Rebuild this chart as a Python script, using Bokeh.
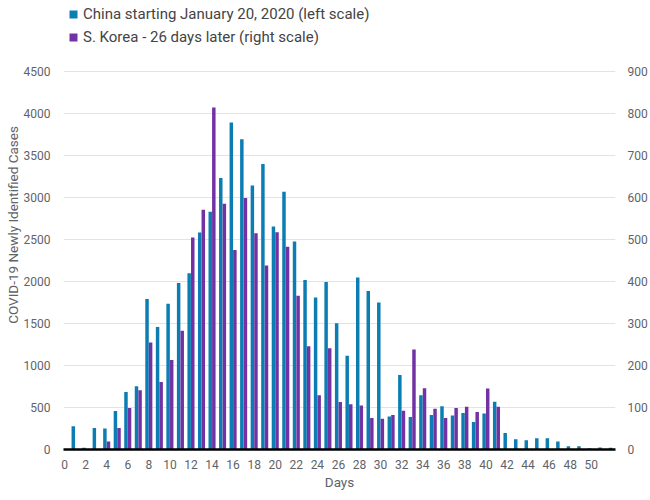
from bokeh.plotting import figure
from bokeh.models import Range1d, LinearAxis, FixedTicker, Legend, LegendItem, ColumnDataSource
from bokeh.embed import file_html
from bokeh.resources import INLINE

# ---- data ----
china_days = list(range(1, 53))
china_cases = [278, 20, 255, 250, 458, 685, 752, 1791, 1457, 1735,
               1982, 2097, 2583, 2830, 3232, 3892, 3693, 3144, 3399, 2655,
               3069, 2476, 2018, 1811, 1994, 1502, 1116, 2048, 1888, 1749,
               394, 888, 386, 645, 410, 514, 406, 434, 327, 429,
               568, 195, 123, 111, 135, 135, 95, 40, 40, 16,
               24, 20]
korea_days = list(range(4, 42))
korea_cases = [19, 51, 99, 141, 255, 161, 213, 283, 505, 571,
               814, 585, 475, 599, 515, 438, 517, 483, 366, 246,
               129, 241, 113, 108, 105, 75, 73, 82, 92, 238,
               146, 97, 75, 99, 102, 89, 145, 102]

left_ticks = list(range(0, 4501, 500))
right_ticks = list(range(0, 901, 100))
x_ticks = list(range(0, 51, 2))

china_label = "China starting January 20, 2020 (left scale)"
korea_label = "S. Korea - 26 days later (right scale)"
x_title = "Days"
y_title = "COVID-19 Newly Identified Cases"

CHINA_COLOR = "#0b7db2"
KOREA_COLOR = "#7232a3"
FONT = "Roboto"
TICK_COLOR = "#5f6368"

W, H = 650, 500
FRAME_BOTTOM = 449          # pixel row of the zero line
FRAME_TOP_TICK = 71         # pixel row of the 4500 gridline
LEFT_MAX = 4500
RIGHT_MAX = 900
# frame reaches the top of the canvas so the legend can sit inside it
left_top = LEFT_MAX * FRAME_BOTTOM / (FRAME_BOTTOM - FRAME_TOP_TICK)
right_top = RIGHT_MAX * FRAME_BOTTOM / (FRAME_BOTTOM - FRAME_TOP_TICK)

china_src = ColumnDataSource(dict(x=[d - 0.17 for d in china_days], top=china_cases))
korea_src = ColumnDataSource(dict(x=[d + 0.17 for d in korea_days], top=korea_cases))

p = figure(width=W, height=H, output_backend="svg", toolbar_location=None,
           x_range=Range1d(-0.1, 52.3), y_range=Range1d(0, left_top),
           min_border_left=63, min_border_right=33, min_border_top=0,
           min_border_bottom=H - FRAME_BOTTOM)
p.extra_y_ranges = {"right": Range1d(0, right_top)}
p.outline_line_color = None
p.background_fill_color = "white"
p.border_fill_color = "white"

r_china = p.vbar(x="x", top="top", width=0.33, bottom=0, source=china_src,
                 fill_color=CHINA_COLOR, line_color=None)
r_korea = p.vbar(x="x", top="top", width=0.33, bottom=0, source=korea_src,
                 fill_color=KOREA_COLOR, line_color=None, y_range_name="right")

# x axis
xa = p.xaxis[0]
xa.ticker = FixedTicker(ticks=x_ticks)
xa.axis_line_color = "black"
xa.axis_line_width = 2.5
xa.major_tick_line_color = None
xa.minor_tick_line_color = None
xa.major_label_standoff = 4
xa.major_label_text_font = FONT
xa.major_label_text_font_size = "12px"
xa.major_label_text_color = TICK_COLOR
xa.axis_label = x_title
xa.axis_label_text_font = FONT
xa.axis_label_text_font_size = "13.5px"
xa.axis_label_text_font_style = "normal"
xa.axis_label_text_color = TICK_COLOR
xa.axis_label_standoff = 2

# left y axis
ya = p.yaxis[0]
ya.ticker = FixedTicker(ticks=left_ticks)
ya.axis_line_color = None
ya.major_tick_line_color = None
ya.minor_tick_line_color = None
ya.major_label_standoff = 7
ya.major_label_text_font = FONT
ya.major_label_text_font_size = "12px"
ya.major_label_text_color = TICK_COLOR
ya.axis_label = y_title
ya.axis_label_text_font = FONT
ya.axis_label_text_font_size = "13.5px"
ya.axis_label_text_font_style = "normal"
ya.axis_label_text_color = TICK_COLOR
ya.axis_label_standoff = 0

# right y axis
ra = LinearAxis(y_range_name="right", ticker=FixedTicker(ticks=right_ticks))
ra.axis_line_color = None
ra.major_tick_line_color = None
ra.minor_tick_line_color = None
ra.major_label_standoff = 6
ra.major_label_text_font = FONT
ra.major_label_text_font_size = "12px"
ra.major_label_text_color = TICK_COLOR
p.add_layout(ra, "right")

# grids
p.xgrid.grid_line_color = None
p.ygrid.ticker = FixedTicker(ticks=left_ticks)
p.ygrid.grid_line_color = "#e3e3e3"
p.ygrid.grid_line_width = 1

legend = Legend(items=[LegendItem(label=china_label, renderers=[r_china]),
                       LegendItem(label=korea_label, renderers=[r_korea])],
                location=(5, FRAME_BOTTOM - 46), orientation="vertical")
legend.background_fill_alpha = 0
legend.border_line_color = None
legend.padding = 0
legend.margin = 0
legend.spacing = 5
legend.label_height = 14
legend.glyph_height = 10
legend.glyph_width = 10
legend.label_standoff = 5
legend.label_text_font = FONT
legend.label_text_font_size = "15px"
legend.label_text_color = "#444444"
p.add_layout(legend, "center")

open("out.html", "w").write(file_html(p, INLINE))
